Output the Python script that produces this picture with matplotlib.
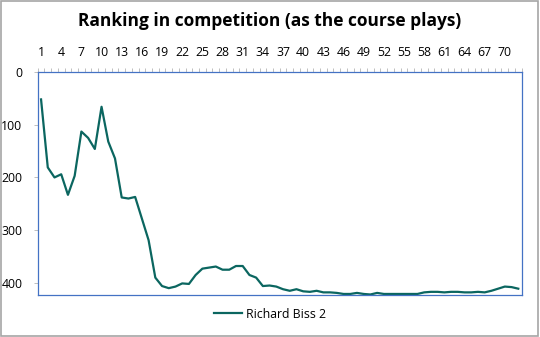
import numpy as np
import matplotlib.pyplot as plt
from matplotlib.patches import Rectangle
from matplotlib.ticker import FixedLocator

plt.rcParams['font.family'] = ['Open Sans', 'DejaVu Sans']

# ranking after each hole / round
rounds = np.arange(1, 73)
ranking = [52, 181, 200, 194, 233, 197, 113, 125, 146, 66,
           132, 164, 238, 240, 237, 278, 319, 390, 406, 410,
           407, 401, 402, 385, 373, 371, 369, 375, 375, 368,
           368, 385, 390, 406, 405, 407, 412, 415, 412, 416,
           417, 415, 418, 418, 419, 421, 421, 419, 421, 422,
           419, 421, 421, 421, 421, 421, 421, 418, 417, 417,
           418, 417, 417, 418, 418, 417, 418, 415, 411, 407,
           408, 411]
series_name = 'Richard Biss 2'
y_max = 423

fig = plt.figure(figsize=(5.4, 3.37), dpi=100)
ax = fig.add_axes([0.0698, 0.1246, 0.8962, 0.6618])

line, = ax.plot(rounds, ranking, color='#0B6660', linewidth=1.6, label=series_name)

ax.set_xlim(0.5, 72.5)
ax.set_ylim(y_max, 0)  # ranking axis reversed

ax.xaxis.tick_top()
ax.set_xticks(rounds[::3])
ax.xaxis.set_minor_locator(FixedLocator(np.arange(0.5, 73, 1)))
ax.tick_params(axis='x', which='major', length=0, pad=9, labelsize=8.8, colors='#000000')
ax.tick_params(axis='x', which='minor', length=3, width=0.7, color='#BFBFBF', top=True, bottom=False)
ax.set_yticks([0, 100, 200, 300, 400])
ax.tick_params(axis='y', which='major', length=3, width=0.7, color='#BFBFBF', pad=8, labelsize=8.8)

for s in ax.spines.values():
    s.set_color('#4472C4')
    s.set_linewidth(0.9)

fig.suptitle('Ranking in competition (as the course plays)', x=0.5, y=0.965,
             fontsize=12.5, fontweight='bold')

fig.legend(handles=[line], loc='center', bbox_to_anchor=(0.5, 1 - 314 / 337),
           frameon=False, fontsize=8.8, handlelength=2.3, handletextpad=0.4)

fig.add_artist(Rectangle((0.002, 0.003), 0.995, 0.993, transform=fig.transFigure,
                         fill=False, edgecolor='#A6A6A6', linewidth=1.2))

fig.savefig('out.png', dpi=100)
